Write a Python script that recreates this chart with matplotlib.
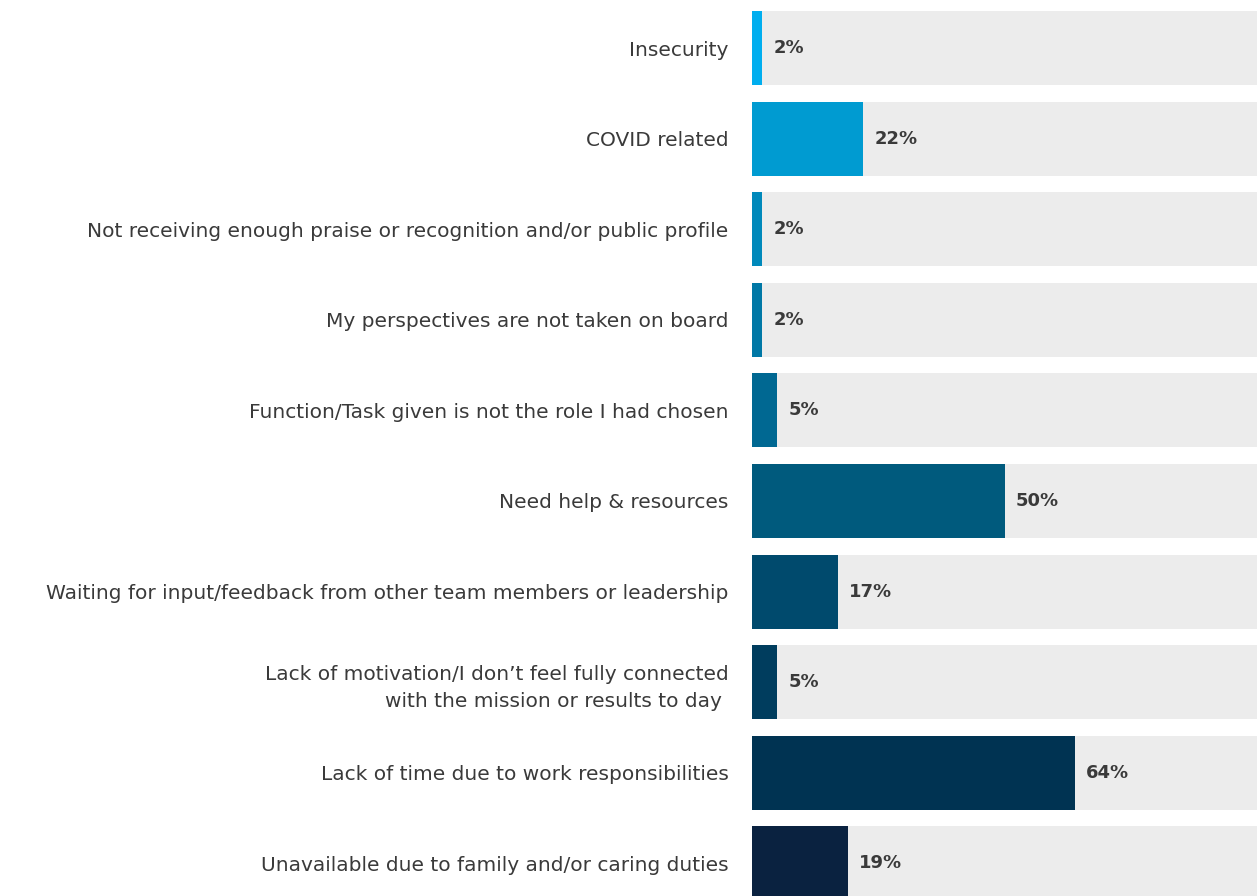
import matplotlib
matplotlib.use('Agg')
import matplotlib.pyplot as plt

plt.rcParams['font.family'] = ['DejaVu Sans']

labels = [
    'Insecurity',
    'COVID related',
    'Not receiving enough praise or recognition and/or public profile',
    'My perspectives are not taken on board',
    'Function/Task given is not the role I had chosen',
    'Need help & resources',
    'Waiting for input/feedback from other team members or leadership',
    'Lack of motivation/I don\u2019t feel fully connected\nwith the mission or results to day ',
    'Lack of time due to work responsibilities',
    'Unavailable due to family and/or caring duties',
]
values = [2, 22, 2, 2, 5, 50, 17, 5, 64, 19]
colors = ['#00aeef', '#009bd1', '#0089bb', '#0078a6', '#006892',
          '#005a7d', '#004a6d', '#003d5e', '#003352', '#0a2240']

TEXT = '#3a3a3a'

fig = plt.figure(figsize=(12.57, 8.96), dpi=100)
ax = fig.add_axes([752 / 1257, 0, 505 / 1257, 1])

pos = list(range(len(labels)))
ax.barh(pos, [100] * len(pos), height=0.817, color='#ececec', zorder=1)
ax.barh(pos, values, height=0.817, color=colors, zorder=2)

ax.set_xlim(0, 100)
ax.set_ylim(9.36, -0.53)
ax.set_yticks(pos)
ax.set_yticklabels(labels, fontsize=14.5, color=TEXT, ha='right', linespacing=1.5)
ax.tick_params(axis='y', length=0, pad=17)
ax.tick_params(axis='x', bottom=False, labelbottom=False)
for s in ax.spines.values():
    s.set_visible(False)

for p, v in zip(pos, values):
    ax.annotate(f'{v}%', xy=(v, p), xytext=(8, 0), textcoords='offset points',
                ha='left', va='center', fontsize=13, fontweight='bold', color=TEXT, zorder=3)

fig.savefig('out.png', dpi=100, facecolor='white')
